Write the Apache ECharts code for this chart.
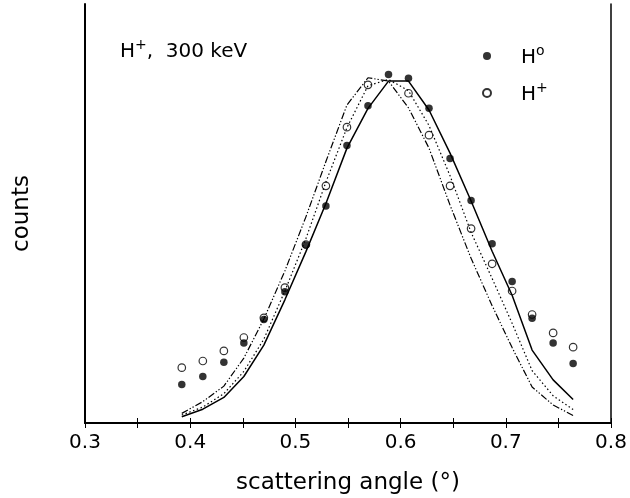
<!DOCTYPE html>
<html><head><meta charset="utf-8">
<script src="https://cdn.jsdelivr.net/npm/echarts@6/dist/echarts.min.js"></script>
<style>html,body{margin:0;padding:0;background:#fff}#c{width:630px;height:498px}</style>
</head><body><div id="c"></div>
<script>
// scattering angle (degrees) at which counts were taken
const angles = [0.392,0.412,0.432,0.451,0.470,0.490,0.510,0.529,0.549,0.569,0.5885,0.6075,0.627,0.647,0.667,0.687,0.706,0.725,0.745,0.764];
// measured counts (arbitrary units)
const h0Counts    = [9.2,11.1,14.5,19.1,24.7,31.3,42.5,51.8,66.2,75.7,83.2,82.3,75.1,63.1,53.1,42.8,33.8,25.0,19.1,14.2];
const hPlusCounts = [13.2,14.8,17.2,20.4,25.1,32.3,42.6,56.6,70.6,80.7,null,78.7,68.7,56.6,46.4,38.0,31.5,25.9,21.5,18.1];
// calculated curves
const solidCurve   = [1.5,3.3,6.1,11.1,18.6,29.4,40.9,52.4,65.6,75.1,81.6,81.6,74.7,64.4,53.0,41.0,30.5,17.4,10.3,5.6];
const dottedCurve  = [1.9,3.8,7.0,12.3,20.0,31.5,44.0,57.5,70.5,80.5,82.0,79.3,71.0,59.0,45.5,34.5,23.8,12.5,6.5,3.2];
const dashDotCurve = [2.3,5.1,8.8,15.5,24.8,36.3,49.2,62.4,75.9,82.4,81.6,75.2,65.6,52.0,39.3,28.0,18.0,8.6,4.3,1.8];
const xTickLabels = ['0.3','0.4','0.5','0.6','0.7','0.8'];

const FONT = 'DejaVu Sans';
const pairs = arr => angles.map((a,i)=>[a,arr[i]]).filter(p=>p[1]!==null);
const richH = {fontFamily:FONT, fontSize:20, fontWeight:'normal', color:'#000', lineHeight:24, verticalAlign:'bottom'};
const richS = {fontFamily:FONT, fontSize:14, fontWeight:'normal', color:'#000', lineHeight:12, verticalAlign:'top'};

const chart = echarts.init(document.getElementById('c'), null, {renderer:'canvas'});
chart.setOption({
  animation:false,
  backgroundColor:'#fff',
  title:{
    left:115, top:33,
    text:'{h|H}{s|+}{h|,  300 keV}',
    textStyle:{fontWeight:'normal', rich:{h:richH, s:richS}}
  },
  legend:{
    left:477, top:39, orient:'vertical', itemGap:13,
    itemWidth:14, itemHeight:8,
    data:['H°','H⁺'],
    formatter: n => n==='H°' ? '{p|H}{s|o}' : '{p|H}{s|+}',
    textStyle:{rich:{
      p:Object.assign({}, richH, {padding:[0,0,0,22]}),
      s:richS
    }}
  },
  grid:{left:85, right:19, top:4, bottom:75, containLabel:false, outerBoundsMode:'none'},
  xAxis:[{
    type:'value', min:0.3, max:0.8, interval:0.1, position:'bottom',
    axisLine:{show:true, lineStyle:{color:'#000', width:2}},
    axisTick:{show:true, inside:true, length:5, lineStyle:{color:'#000', width:1}},
    minorTick:{show:true, splitNumber:2, length:5, lineStyle:{color:'#000', width:1}},
    axisLabel:{color:'#000', fontFamily:FONT, fontSize:20, margin:10,
      formatter:(v)=>xTickLabels[Math.round((v-0.3)*10)] || ''},
    splitLine:{show:false},
    name:'scattering angle (°)', nameLocation:'middle', nameGap:49,
    nameTextStyle:{color:'#000', fontFamily:FONT, fontSize:23}
  },{
    type:'value', min:0.3, max:0.8, interval:0.1, position:'top',
    axisLine:{show:true, lineStyle:{color:'#000', width:1.5}},
    axisTick:{show:true, inside:true, length:5, lineStyle:{color:'#000', width:1}},
    minorTick:{show:true, splitNumber:2, length:5, lineStyle:{color:'#000', width:1}},
    axisLabel:{show:false}, splitLine:{show:false}
  }],
  yAxis:[{
    type:'value', min:0, max:100, position:'left',
    axisLine:{show:true, lineStyle:{color:'#000', width:2}},
    axisTick:{show:false}, axisLabel:{show:false}, splitLine:{show:false},
    name:'counts', nameLocation:'middle', nameGap:51,
    nameTextStyle:{color:'#000', fontFamily:FONT, fontSize:23}
  },{
    type:'value', min:0, max:100, position:'right',
    axisLine:{show:true, lineStyle:{color:'#000', width:1.5}},
    axisTick:{show:false}, axisLabel:{show:false}, splitLine:{show:false}
  }],
  series:[
    {type:'line', name:'model solid', data:pairs(solidCurve), symbol:'none',
      lineStyle:{color:'#000', width:1.5, type:'solid'}},
    {type:'line', name:'model dotted', data:pairs(dottedCurve), symbol:'none',
      lineStyle:{color:'#000', width:1.2, type:[1.5,2.5]}},
    {type:'line', name:'model dashdot', data:pairs(dashDotCurve), symbol:'none',
      lineStyle:{color:'#000', width:1.2, type:[7,2,1.3,2,1.3,2]}},
    {type:'scatter', name:'H⁺', data:pairs(hPlusCounts), symbol:'circle', symbolSize:7.5,
      itemStyle:{color:'#fff', borderColor:'#000', borderWidth:1.2}},
    {type:'scatter', name:'H°', data:pairs(h0Counts), symbol:'circle', symbolSize:7.5,
      itemStyle:{color:'#000', borderColor:'#000', borderWidth:0}}
  ]
});
</script></body></html>
